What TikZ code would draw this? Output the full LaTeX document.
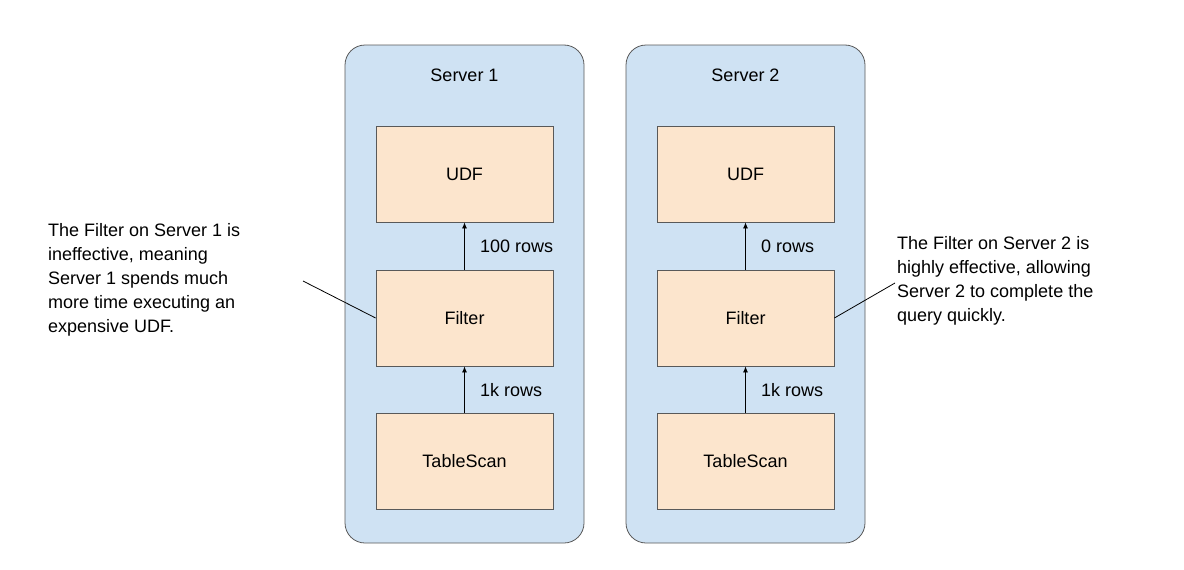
\documentclass[tikz,border=0pt]{standalone}
\usepackage{fontspec}
\setmainfont{Liberation Sans}
\usetikzlibrary{arrows.meta}
\definecolor{srv}{HTML}{CFE2F3}
\definecolor{op}{HTML}{FCE5CD}
\definecolor{edge}{HTML}{595959}
\begin{document}
\begin{tikzpicture}[x=1pt,y=-1pt,font=\fontsize{18}{24}\selectfont,
  server/.style={draw=edge,fill=srv,rounded corners=20pt,line width=0.8pt},
  opbox/.style={draw=edge,fill=op,minimum width=177pt,minimum height=96pt,line width=0.8pt},
  flow/.style={-{Latex[length=6pt,width=5pt]},line width=0.8pt},
  lbl/.style={anchor=west,inner sep=0pt}]
\useasboundingbox (0,0) rectangle (1184,570);
\foreach \s/\x in {1/345,2/626}{
  \draw[server] (\x,45) rectangle (\x+239,543);
  \node (t\s) at (\x+119.5,75) {Server \s};
  \node[opbox] (u\s) at (\x+119.5,174) {UDF};
  \node[opbox] (f\s) at (\x+119.5,318) {Filter};
  \node[opbox] (s\s) at (\x+119.5,461) {TableScan};
  \draw[flow] (f\s.north) -- (u\s.south);
  \draw[flow] (s\s.north) -- (f\s.south);
}
\node[lbl] (r1) at (480,246) {100 rows};
\node[lbl] (r2) at (761,246) {0 rows};
\node[lbl] (r3) at (480,390) {1k rows};
\node[lbl] (r4) at (761,390) {1k rows};
\node[anchor=north west,align=left,inner sep=0pt] (lt) at (48,223) {The Filter on Server 1 is\\ineffective, meaning\\Server 1 spends much\\more time executing an\\expensive UDF.};
\node[anchor=north west,align=left,inner sep=0pt] (rt) at (897,236) {The Filter on Server 2 is\\highly effective, allowing\\Server 2 to complete the\\query quickly.};
\coordinate (la) at (303,281);
\coordinate (ra) at (895,283);
\draw[line width=0.8pt] (la) -- (f1.west);
\draw[line width=0.8pt] (ra) -- (f2.east);
\end{tikzpicture}
\end{document}
